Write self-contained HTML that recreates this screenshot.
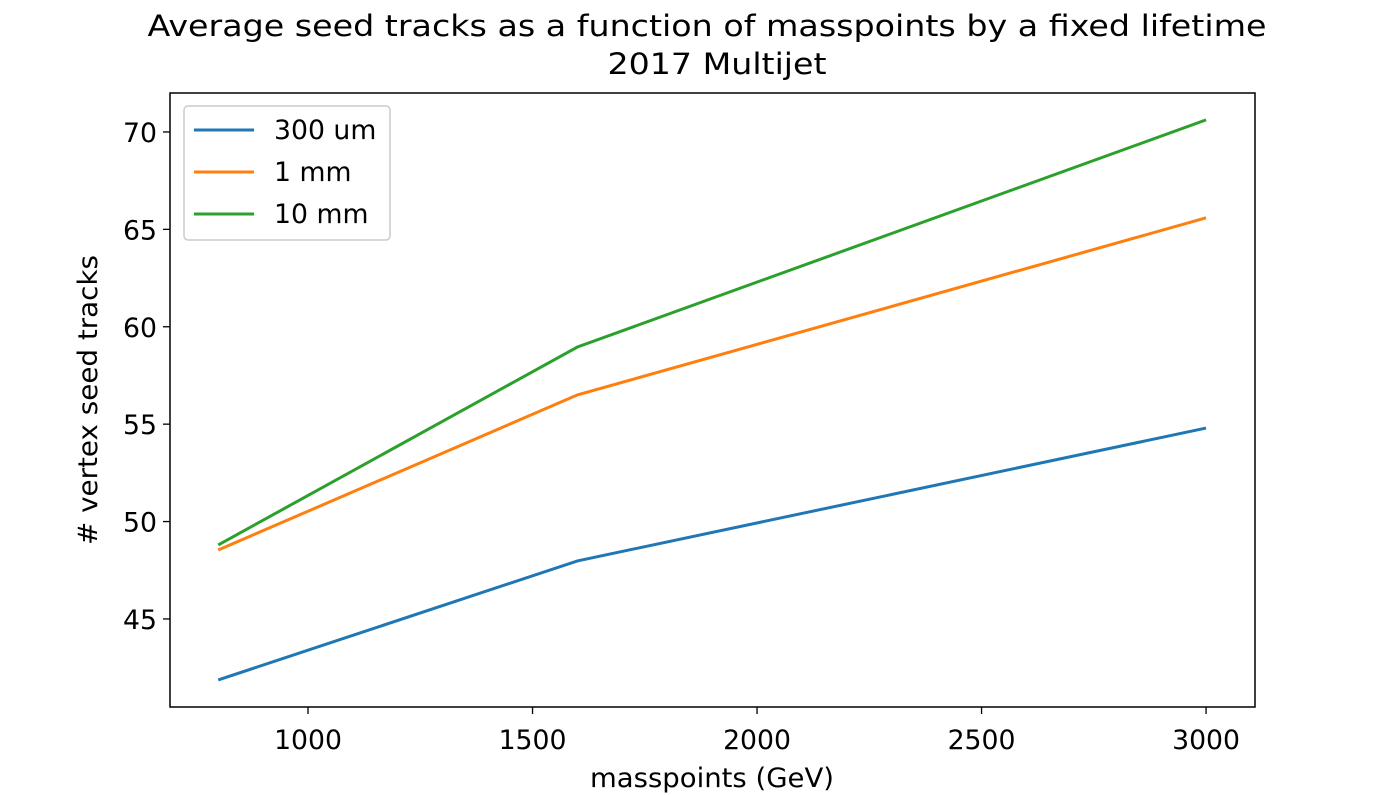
<!DOCTYPE html>
<html><head><meta charset="utf-8"><style>
html,body{margin:0;padding:0;background:#fff;}
svg{display:block;font-family:"DejaVu Sans","Liberation Sans",sans-serif;}
</style></head><body>
<svg id="chart" width="1380" height="795">
<text x="707" y="36" text-anchor="middle" font-size="29.6" textLength="1119" lengthAdjust="spacingAndGlyphs">Average seed tracks as a function of masspoints by a fixed lifetime</text>
<text x="717" y="74" text-anchor="middle" font-size="29.6" textLength="219" lengthAdjust="spacingAndGlyphs">2017 Multijet</text>
<g id="grid"></g>
<g id="lines"></g>
<rect x="170" y="93" width="1085" height="614" fill="none" stroke="#000" stroke-width="1.5"/>
<text x="712" y="787" text-anchor="middle" font-size="26.7" textLength="244" lengthAdjust="spacingAndGlyphs">masspoints (GeV)</text>
<text transform="translate(97,400) rotate(-90)" text-anchor="middle" font-size="26.7" textLength="290" lengthAdjust="spacingAndGlyphs"># vertex seed tracks</text>
<g id="legend"></g>
</svg>
<script>
const categories=[800,1600,3000];
const series300um=[41.87,47.98,54.8];
const series1mm=[48.54,56.5,65.59];
const series10mm=[48.8,58.96,70.62];
const seriesNames=["300 um","1 mm","10 mm"];
const xTicks=[1000,1500,2000,2500,3000];
const yTicks=[45,50,55,60,65,70];
const colors=["#1f77b4","#ff7f0e","#2ca02c"];
const NS="http://www.w3.org/2000/svg";
const X0=170,X1=1255,Y0=707,Y1=93,xmin=692.6,xmax=3109,ymin=40.48,ymax=72.0;
function xs(v){return X0+(v-xmin)/(xmax-xmin)*(X1-X0);}
function ys(v){return Y0-(v-ymin)/(ymax-ymin)*(Y0-Y1);}
function mk(t,a,p){const e=document.createElementNS(NS,t);for(const k in a)e.setAttribute(k,a[k]);p.appendChild(e);return e;}
const g=document.getElementById('grid');
xTicks.forEach(v=>{
 const l=mk('line',{x1:xs(v),x2:xs(v),y1:Y0,y2:Y0+7,stroke:'#000','stroke-width':1.3},g);
 
 
 const t=mk('text',{x:xs(v),y:Y0+42,'text-anchor':'middle','font-size':26.7},g);t.textContent=v;
 
 
});
yTicks.forEach(v=>{
 const l=mk('line',{x1:X0-7,x2:X0,y1:ys(v),y2:ys(v),stroke:'#000','stroke-width':1.3},g);
 
 
 const t=mk('text',{x:X0-13,y:ys(v)+10,'text-anchor':'end','font-size':26.7},g);t.textContent=v;
 
 
});
const lg=document.getElementById('lines');
[series300um,series1mm,series10mm].forEach((s,i)=>{
 const p=mk('polyline',{points:s.map((v,j)=>xs(categories[j])+','+ys(v)).join(' '),fill:'none',stroke:colors[i],'stroke-width':3},lg);
 
 
});
const leg=document.getElementById('legend');
const box=mk('rect',{x:184,y:106,width:206,height:134,rx:4,fill:'#fff',stroke:'#ccc','stroke-width':1.5},leg);


seriesNames.forEach((n,i)=>{
 const y=130+i*42;
 const l=mk('line',{x1:194,x2:254,y1:y,y2:y,stroke:colors[i],'stroke-width':3},leg);
 
 
 const t=mk('text',{x:274,y:y+9,'font-size':26.7},leg);t.textContent=n;
 
 
});
</script>
</body></html>
